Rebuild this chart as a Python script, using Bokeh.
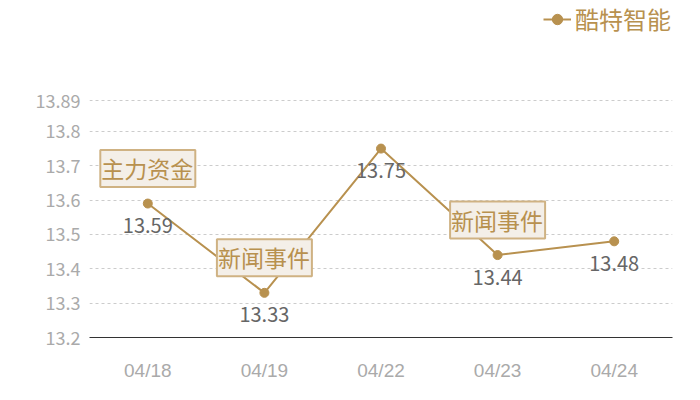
from bokeh.plotting import figure
from bokeh.models import ColumnDataSource, FixedTicker, CustomJSTickFormatter, Legend, LegendItem, Range1d
from bokeh.core.properties import value
from bokeh.embed import file_html
from bokeh.resources import INLINE

dates = ["04/18", "04/19", "04/22", "04/23", "04/24"]
prices = [13.59, 13.33, 13.75, 13.44, 13.48]
value_labels = ["13.59", "13.33", "13.75", "13.44", "13.48"]
event_dates = ["04/18", "04/19", "04/23"]
event_prices = [13.59, 13.33, 13.44]
event_labels = ["主力资金", "新闻事件", "新闻事件"]
y_ticks = [13.2, 13.3, 13.4, 13.5, 13.6, 13.7, 13.8, 13.89]
series_name = "酷特智能"

GOLD = "#b8914f"
CJK = "Noto Sans CJK SC"

# frame spans the full height so the legend can sit in its top-right corner;
# the top tick (13.89) lands 100px below the frame top
Y_MIN, Y_TOP_TICK = 13.2, 13.89
px_per_unit = 237 / (Y_TOP_TICK - Y_MIN)
y_end = Y_TOP_TICK + 100 / px_per_unit

p = figure(x_range=dates, width=684, height=384, output_backend="svg",
           toolbar_location=None, min_border_left=89, min_border_right=12,
           min_border_top=0, min_border_bottom=47)
p.y_range = Range1d(Y_MIN, y_end)
p.outline_line_color = None
p.background_fill_color = "white"

src = ColumnDataSource(dict(x=dates, y=prices, lab=value_labels))
ln = p.line("x", "y", source=src, line_color=GOLD, line_width=2)
sc = p.scatter("x", "y", source=src, size=9, fill_color=GOLD, line_color=GOLD)

p.text("x", "y", text="lab", source=src, y_offset=22, text_align="center",
       text_baseline="middle", text_color="#666666", text_font_size="20px",
       text_font=value(CJK))

esrc = ColumnDataSource(dict(x=event_dates, y=event_prices, t=event_labels))
p.text("x", "y", text="t", source=esrc, y_offset=-35, text_align="center",
       text_baseline="middle", text_color=GOLD, text_font_size="23px",
       text_font=value(CJK), background_fill_color="#f4efe8",
       border_line_color="#cfb283", border_line_width=2, padding=[1, 2, 1, 2])

p.yaxis.ticker = FixedTicker(ticks=y_ticks)
p.yaxis.formatter = CustomJSTickFormatter(code="return Number(tick.toFixed(2)).toString();")
p.yaxis.axis_line_color = None
p.yaxis.major_tick_line_color = None
p.yaxis.minor_tick_line_color = None
p.yaxis.major_tick_out = 0
p.yaxis.minor_tick_out = 0
p.yaxis.major_label_text_color = "#aaaaaa"
p.yaxis.major_label_text_font_size = "18px"
p.yaxis.major_label_text_font = CJK
p.yaxis.major_label_standoff = 9

p.xaxis.axis_line_color = "#333333"
p.xaxis.axis_line_width = 1
p.xaxis.major_tick_line_color = None
p.xaxis.minor_tick_line_color = None
p.xaxis.major_tick_out = 0
p.xaxis.minor_tick_out = 0
p.xaxis.major_label_text_color = "#aaaaaa"
p.xaxis.major_label_text_font_size = "19px"
p.xaxis.major_label_text_font = "Liberation Sans"
p.xaxis.major_label_standoff = 22

p.xgrid.grid_line_color = None
p.ygrid.ticker = FixedTicker(ticks=y_ticks[1:])
p.ygrid.grid_line_color = "#cccccc"
p.ygrid.grid_line_dash = "3 3"

legend = Legend(items=[LegendItem(label=series_name, renderers=[ln, sc])],
                location=(454, 301), border_line_color=None,
                background_fill_alpha=0, padding=0, margin=0,
                label_text_color=GOLD, label_text_font_size="24px",
                label_text_font=CJK, glyph_width=28, glyph_height=26,
                label_height=26, label_standoff=4)
p.add_layout(legend, "center")

open("out.html", "w").write(file_html(p, INLINE))
